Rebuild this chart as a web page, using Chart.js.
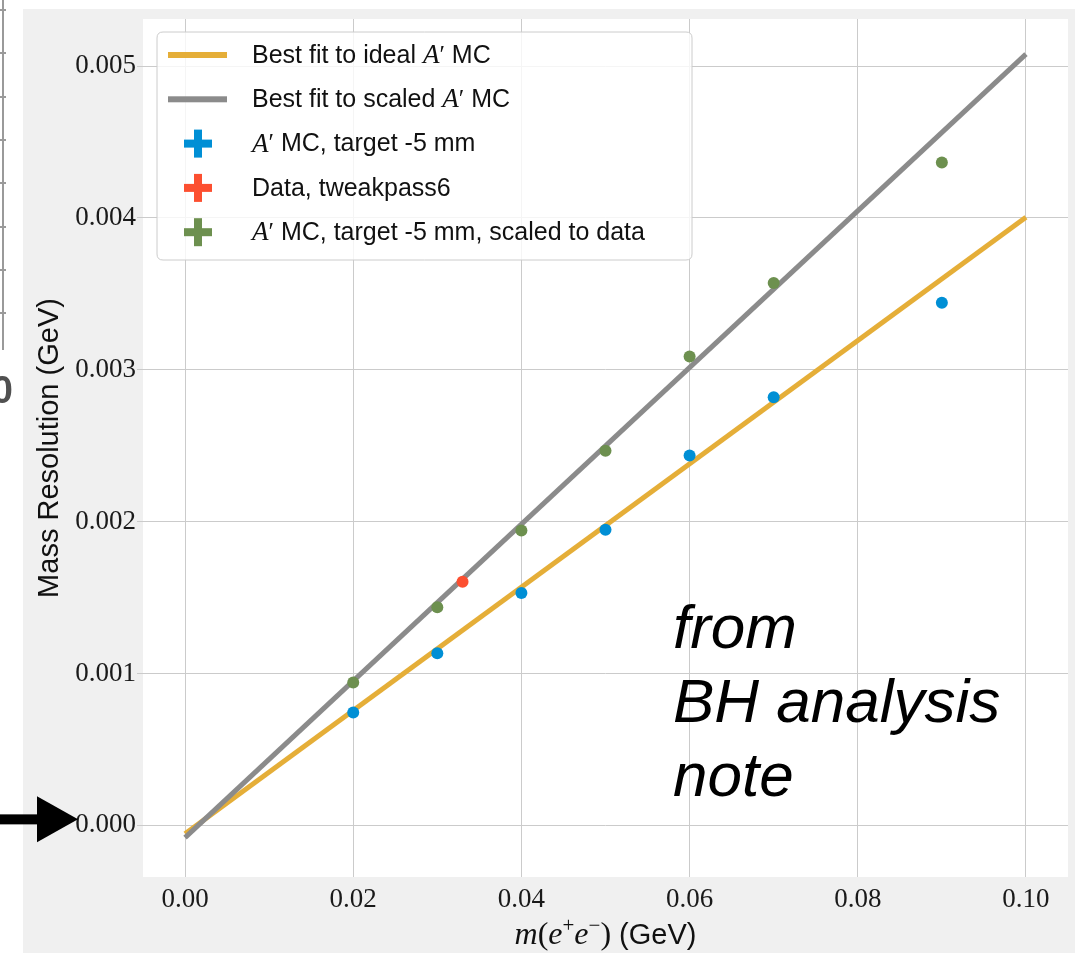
<!DOCTYPE html>
<html>
<head>
<meta charset="utf-8">
<title>Mass resolution</title>
<script src="https://cdn.jsdelivr.net/npm/chart.js@4.4.1/dist/chart.umd.min.js"></script>
<style>
html, body { margin: 0; padding: 0; background: #fff; }
#wrap { width: 1075px; height: 953px; position: relative; }
</style>
</head>
<body>
<div id="wrap"><canvas id="resChart" width="1075" height="953"></canvas></div>
<script>
// A' masses of the MC samples (GeV)
var massPoints = [0.02, 0.03, 0.04, 0.05, 0.06, 0.07, 0.09];
// mass resolution, A' MC target -5 mm
var resIdealMC = [0.000743, 0.001133, 0.001530, 0.001946, 0.002435, 0.002819, 0.003441];
// mass resolution, MC scaled to data
var resScaledMC = [0.000941, 0.001436, 0.001941, 0.002467, 0.003087, 0.003571, 0.004365];
// data point (tweakpass6)
var dataMass = [0.033];
var dataRes = [0.001605];
// straight line fits, evaluated at the ends
var fitX = [0.0, 0.1];
var fitIdeal = [-0.000055, 0.004004];
var fitScaled = [-0.000081, 0.005079];
// axis ticks
var xTickValues = [0.00, 0.02, 0.04, 0.06, 0.08, 0.10];
var yTickValues = [0.000, 0.001, 0.002, 0.003, 0.004, 0.005];

var BLUE = '#008fd5', RED = '#fc4f30', YELLOW = '#e5ae38', GREEN = '#6d904f', GREY = '#8b8b8b';

function pairs(xs, ys) {
    return xs.map(function(x, i) { return { x: x, y: ys[i] }; });
}

var SANS = '"Liberation Sans", Arial, sans-serif';
var SERIF = '"Liberation Serif", "Times New Roman", serif';
var legSans = '25px ' + SANS;
var legMath = 'italic 27px ' + SERIF;
var legPrime = '25px ' + SERIF;

function aprime() {
    return [{ t: 'A', f: legMath }, { t: '\u2032', f: legPrime }];
}

// legend rows, same order as datasets
var legendText = [
    [{ t: 'Best fit to ideal ', f: legSans }].concat(aprime(), [{ t: ' MC', f: legSans }]),
    [{ t: 'Best fit to scaled ', f: legSans }].concat(aprime(), [{ t: ' MC', f: legSans }]),
    aprime().concat([{ t: ' MC, target -5 mm', f: legSans }]),
    [{ t: 'Data, tweakpass6', f: legSans }],
    aprime().concat([{ t: ' MC, target -5 mm, scaled to data', f: legSans }])
];

function drawRich(ctx, segs, x, y) {
    segs.forEach(function(s) {
        ctx.font = s.f;
        ctx.fillText(s.t, x + (s.dx || 0), y + (s.dy || 0));
        x += ctx.measureText(s.t).width + (s.dx || 0);
    });
}
function richWidth(ctx, segs) {
    var w = 0;
    segs.forEach(function(s) { ctx.font = s.f; w += ctx.measureText(s.t).width + (s.dx || 0); });
    return w;
}

function roundRect(ctx, x, y, w, h, r) {
    ctx.beginPath();
    ctx.moveTo(x + r, y);
    ctx.lineTo(x + w - r, y);
    ctx.quadraticCurveTo(x + w, y, x + w, y + r);
    ctx.lineTo(x + w, y + h - r);
    ctx.quadraticCurveTo(x + w, y + h, x + w - r, y + h);
    ctx.lineTo(x + r, y + h);
    ctx.quadraticCurveTo(x, y + h, x, y + h - r);
    ctx.lineTo(x, y + r);
    ctx.quadraticCurveTo(x, y, x + r, y);
    ctx.closePath();
}

var decor = {
    id: 'decor',
    beforeDraw: function(chart) {
        var ctx = chart.ctx, a = chart.chartArea;
        ctx.save();
        ctx.fillStyle = '#ffffff';
        ctx.fillRect(0, 0, chart.width, chart.height);
        // figure background
        ctx.fillStyle = '#f0f0f0';
        ctx.fillRect(23, 9, chart.width - 23, chart.height - 9);
        // plot background
        ctx.fillStyle = '#ffffff';
        ctx.fillRect(a.left, a.top, a.right - a.left, a.bottom - a.top);

        // bits of the slide left of the figure
        ctx.strokeStyle = '#9a9a9a';
        ctx.lineWidth = 2;
        ctx.beginPath();
        ctx.moveTo(3, 0); ctx.lineTo(3, 350);
        [10, 53, 97, 140, 183, 227, 270, 313].forEach(function(yy) {
            ctx.moveTo(0, yy); ctx.lineTo(6, yy);
        });
        ctx.stroke();
        ctx.fillStyle = '#505050';
        ctx.font = 'bold 38px ' + SANS;
        ctx.textAlign = 'right';
        ctx.textBaseline = 'alphabetic';
        ctx.fillText('0', 13, 403);
        ctx.restore();
    },
    afterDatasetsDraw: function(chart) {
        var ctx = chart.ctx, a = chart.chartArea;
        var ds = chart.data.datasets;
        ctx.save();
        // legend box
        var bx = a.left + 14, by = a.top + 13, bw = 535, bh = 228;
        roundRect(ctx, bx, by, bw, bh, 6);
        ctx.fillStyle = 'rgba(255,255,255,0.8)';
        ctx.fill();
        ctx.strokeStyle = '#cccccc';
        ctx.lineWidth = 1;
        ctx.stroke();
        ctx.textAlign = 'left';
        ctx.textBaseline = 'middle';
        for (var i = 0; i < ds.length; i++) {
            var cy = by + 23 + i * 44.3;
            var col = ds[i].borderColor || ds[i].backgroundColor;
            if (ds[i].showLine) {
                ctx.fillStyle = col;
                ctx.fillRect(bx + 11, cy - 3, 59, 6);
            } else {
                ctx.fillStyle = ds[i].backgroundColor;
                ctx.fillRect(bx + 27, cy - 4, 28, 8);
                ctx.fillRect(bx + 37, cy - 14, 8, 28);
            }
            ctx.fillStyle = '#111';
            drawRich(ctx, legendText[i], bx + 95, cy + 1);
        }

        // annotation added on the slide
        ctx.fillStyle = '#000';
        ctx.font = 'italic 62px ' + SANS;
        ctx.textBaseline = 'alphabetic';
        ctx.fillText('from', 673, 648);
        ctx.fillText('BH analysis', 673, 722);
        ctx.fillText('note', 673, 796);
        ctx.restore();
    },
    afterDraw: function(chart) {
        var ctx = chart.ctx, a = chart.chartArea;
        ctx.save();
        ctx.fillStyle = '#111';
        // y axis title
        ctx.translate(50, (a.top + a.bottom) / 2);
        ctx.rotate(-Math.PI / 2);
        ctx.font = '29px ' + SANS;
        ctx.textAlign = 'center';
        ctx.textBaseline = 'middle';
        ctx.fillText('Mass Resolution (GeV)', 0, 0);
        ctx.restore();

        // x axis title: m(e+e-) (GeV)
        ctx.save();
        ctx.fillStyle = '#111';
        ctx.textAlign = 'left';
        ctx.textBaseline = 'alphabetic';
        var mi = 'italic 32px ' + SERIF, rm = '32px ' + SERIF, sup = '21px ' + SERIF, sn = '29px ' + SANS;
        var segs = [
            { t: 'm', f: mi }, { t: '(', f: rm }, { t: 'e', f: mi },
            { t: '+', f: sup, dy: -12 }, { t: 'e', f: mi }, { t: '\u2212', f: sup, dy: -12 },
            { t: ')', f: rm }, { t: ' (GeV)', f: sn }
        ];
        var w = richWidth(ctx, segs);
        drawRich(ctx, segs, (a.left + a.right) / 2 - w / 2, 944);
        ctx.restore();

        // arrow pointing at the zero line
        var y0 = chart.scales.y.getPixelForValue(0) - 6;
        ctx.save();
        ctx.fillStyle = '#000';
        ctx.fillRect(0, y0 - 5, 42, 10);
        ctx.beginPath();
        ctx.moveTo(37, y0 - 23);
        ctx.lineTo(78, y0);
        ctx.lineTo(37, y0 + 23);
        ctx.closePath();
        ctx.fill();
        ctx.restore();
    }
};

var ctxRes = document.getElementById('resChart').getContext('2d');
var resChart = new Chart(ctxRes, {
    type: 'scatter',
    data: {
        datasets: [
            {
                label: "Best fit to ideal A' MC",
                data: pairs(fitX, fitIdeal),
                showLine: true,
                borderColor: YELLOW,
                backgroundColor: YELLOW,
                borderWidth: 5,
                pointRadius: 0,
                order: 2
            },
            {
                label: "Best fit to scaled A' MC",
                data: pairs(fitX, fitScaled),
                showLine: true,
                borderColor: GREY,
                backgroundColor: GREY,
                borderWidth: 5,
                pointRadius: 0,
                order: 1
            },
            {
                label: "A' MC, target -5 mm",
                data: pairs(massPoints, resIdealMC),
                backgroundColor: BLUE,
                borderWidth: 0,
                pointRadius: 6,
                order: 0
            },
            {
                label: 'Data, tweakpass6',
                data: pairs(dataMass, dataRes),
                backgroundColor: RED,
                borderWidth: 0,
                pointRadius: 6,
                order: 0
            },
            {
                label: "A' MC, target -5 mm, scaled to data",
                data: pairs(massPoints, resScaledMC),
                backgroundColor: GREEN,
                borderWidth: 0,
                pointRadius: 6,
                order: 0
            }
        ]
    },
    options: {
        responsive: false,
        animation: false,
        devicePixelRatio: 1,
        layout: { padding: { top: 19, right: 7, left: 0, bottom: 0 } },
        plugins: {
            legend: { display: false },
            tooltip: { enabled: false }
        },
        scales: {
            x: {
                type: 'linear',
                min: -0.005,
                max: 0.105,
                afterBuildTicks: function(s) { s.ticks = xTickValues.map(function(v) { return { value: v }; }); },
                afterFit: function(s) { s.height = 76; },
                border: { display: false },
                grid: { color: '#cbcbcb', lineWidth: 1, drawTicks: false },
                ticks: {
                    autoSkip: false,
                    maxRotation: 0,
                    padding: 7,
                    color: '#1a1a1a',
                    font: { family: SERIF, size: 27 },
                    callback: function(v) { return Number(v).toFixed(2); }
                }
            },
            y: {
                min: -0.00034,
                max: 0.00531,
                afterBuildTicks: function(s) { s.ticks = yTickValues.map(function(v) { return { value: v }; }); },
                afterFit: function(s) { s.width = 143; },
                border: { display: false },
                grid: { color: '#cbcbcb', lineWidth: 1, tickLength: 6, tickColor: '#cbcbcb' },
                ticks: {
                    autoSkip: false,
                    padding: 1,
                    color: '#1a1a1a',
                    font: { family: SERIF, size: 27 },
                    callback: function(v) { return Number(v).toFixed(3); }
                }
            }
        }
    },
    plugins: [decor]
});
</script>
</body>
</html>
